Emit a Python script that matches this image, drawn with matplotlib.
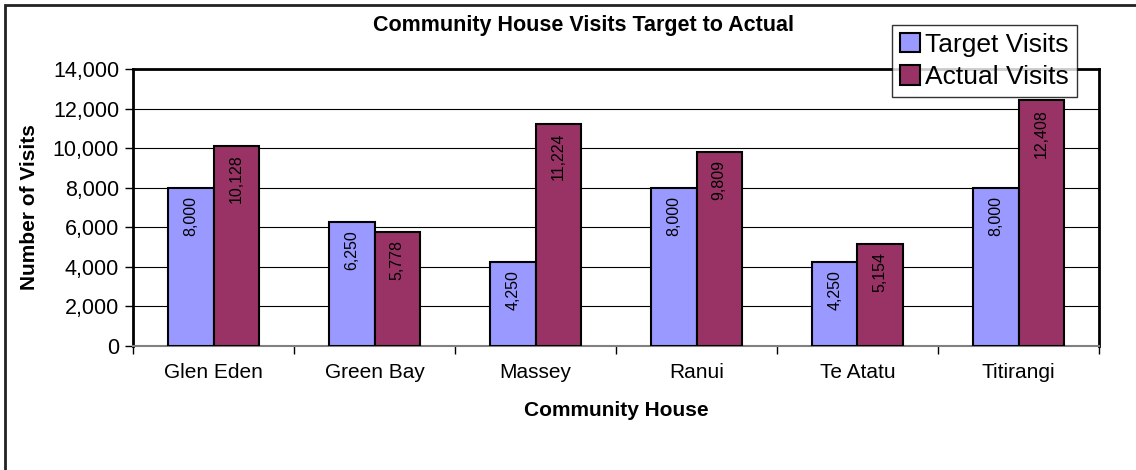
import matplotlib.pyplot as plt
import numpy as np
from matplotlib.patches import Rectangle
from matplotlib.ticker import FuncFormatter, FixedLocator

plt.rcParams['font.family'] = ['Liberation Sans', 'DejaVu Sans']

houses = ['Glen Eden', 'Green Bay', 'Massey', 'Ranui', 'Te Atatu', 'Titirangi']
target = [8000, 6250, 4250, 8000, 4250, 8000]
actual = [10128, 5778, 11224, 9809, 5154, 12408]

fig = plt.figure(figsize=(11.36, 4.70), dpi=100)
ax = fig.add_axes([133 / 1136, 1 - 346 / 470, 966 / 1136, 277 / 470])

x = np.arange(len(houses))
w = 0.28
b1 = ax.bar(x - w / 2, target, w, color='#9999FF', edgecolor='black', linewidth=1.5,
            label='Target Visits', zorder=3)
b2 = ax.bar(x + w / 2, actual, w, color='#993366', edgecolor='black', linewidth=1.5,
            label='Actual Visits', zorder=3)

# data labels, rotated inside the top of each bar
for bars in (b1, b2):
    for r in bars:
        v = r.get_height()
        ax.annotate(f'{v:,.0f}', (r.get_x() + r.get_width() / 2, v),
                    xytext=(0, -6), textcoords='offset points',
                    ha='center', va='top', rotation=90, fontsize=11.5, zorder=4)

ax.set_xlim(-0.5, len(houses) - 0.5)
ax.set_ylim(0, 14000)
ax.set_yticks(range(0, 14001, 2000))
ax.yaxis.set_major_formatter(FuncFormatter(lambda v, p: f'{v:,.0f}'))
ax.yaxis.grid(True, color='black', linewidth=0.8, zorder=0)

ax.set_xticks(x)
ax.set_xticklabels(houses)
ax.xaxis.set_minor_locator(FixedLocator(np.arange(-0.5, len(houses), 1)))
ax.tick_params(axis='x', which='major', length=0, pad=12, labelsize=15)
ax.tick_params(axis='x', which='minor', length=6, width=1, color='black')
ax.tick_params(axis='y', length=6, width=1, labelsize=15.5, pad=4)

for s in ('left', 'top', 'right'):
    ax.spines[s].set_linewidth(2)
ax.spines['bottom'].set_color('#808080')
ax.spines['bottom'].set_linewidth(1.5)

ax.set_xlabel('Community House', fontsize=15, fontweight='bold', labelpad=14)
ax.set_ylabel('Number of Visits', fontsize=15, fontweight='bold', labelpad=10)
fig.text(0.514, 1 - 26 / 470, 'Community House Visits Target to Actual',
         ha='center', va='center', fontsize=15.5, fontweight='bold')

leg = ax.legend(loc='upper left', bbox_to_anchor=(892 / 1136, 1 - 25 / 470),
                bbox_transform=fig.transFigure, fontsize=19, frameon=True,
                fancybox=False, borderpad=0.3, handlelength=0.75, handleheight=0.75,
                handletextpad=0.2, labelspacing=0.32, borderaxespad=0)
leg.get_frame().set_edgecolor('black')
leg.get_frame().set_linewidth(1)

# outer chart border (left and top visible)
fig.patches.append(Rectangle((5 / 1136, -0.1), 1.2, 1 - 5 / 470 + 0.1,
                             transform=fig.transFigure, fill=False,
                             edgecolor='#222222', linewidth=2))

fig.savefig('out.png', dpi=100)
